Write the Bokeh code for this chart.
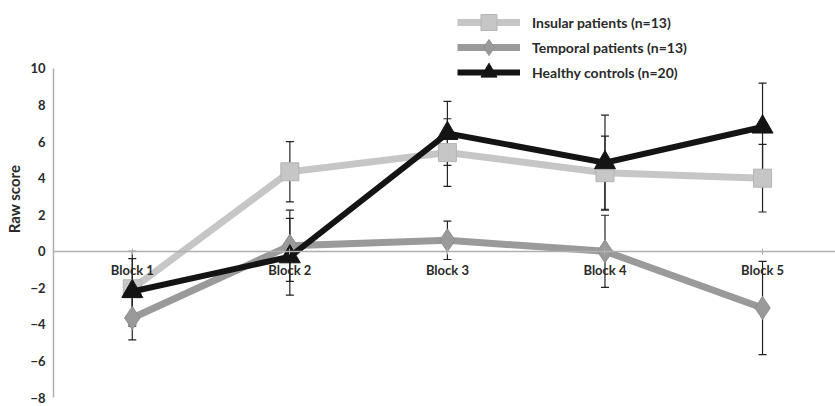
from bokeh.plotting import figure
from bokeh.models import (ColumnDataSource, Range1d, LinearAxis, FixedTicker,
                          Whisker, Legend, LegendItem)
from bokeh.embed import file_html
from bokeh.resources import INLINE

blocks = ["Block 1", "Block 2", "Block 3", "Block 4", "Block 5"]
xpos = [1, 2, 3, 4, 5]

insular = [-2.05, 4.35, 5.4, 4.3, 4.0]
insular_err = [2.05, 1.65, 1.85, 2.0, 1.85]
temporal = [-3.65, 0.3, 0.6, 0.0, -3.1]
temporal_err = [1.2, 1.95, 1.05, 1.97, 2.55]
healthy = [-2.2, -0.3, 6.45, 4.85, 6.8]
healthy_err = [1.8, 2.1, 1.75, 2.6, 2.4]

y_ticks = [-8, -6, -4, -2, 0, 2, 4, 6, 8, 10]

FONT = "Lato"
TXT = "#2a2a2a"

p = figure(width=835, height=406, output_backend="svg", toolbar_location=None,
           x_range=Range1d(0.5, 5.463), y_range=Range1d(-8, 13.72),
           x_axis_location=None, min_border_left=53, min_border_right=0,
           min_border_top=0, min_border_bottom=9)
p.outline_line_color = None
p.xgrid.visible = False
p.ygrid.visible = False
p.background_fill_color = "white"

# y axis
yax = p.yaxis[0]
yax.ticker = FixedTicker(ticks=y_ticks)
yax.bounds = (-8, 10)
yax.axis_line_color = "#b0b0b0"
yax.axis_line_width = 1.5
yax.major_tick_in = 0
yax.major_tick_out = 0
yax.major_tick_line_color = None
yax.minor_tick_line_color = None
yax.major_label_text_font = FONT
yax.major_label_text_font_style = "bold"
yax.major_label_text_font_size = "13px"
yax.major_label_text_color = TXT
yax.major_label_standoff = 8
yax.axis_label = "Raw score"
yax.axis_label_text_font = FONT
yax.axis_label_text_font_style = "bold"
yax.axis_label_text_font_size = "15px"
yax.axis_label_text_color = TXT
yax.axis_label_standoff = 4

# x axis at y = 0
xax = LinearAxis(fixed_location=0, ticker=FixedTicker(ticks=xpos),
                 major_label_overrides={x: b for x, b in zip(xpos, blocks)})
xax.axis_line_color = "#b0b0b0"
xax.axis_line_width = 1.5
xax.major_tick_line_color = "#b0b0b0"
xax.major_tick_in = 3
xax.major_tick_out = 3
xax.minor_tick_line_color = None
xax.major_label_text_font = FONT
xax.major_label_text_font_style = "bold"
xax.major_label_text_font_size = "13px"
xax.major_label_text_color = TXT
xax.major_label_standoff = 8
p.add_layout(xax, "below")

series = [
    ("Insular patients (n=13)", insular, insular_err, "#c6c6c6", "square", 18, "#b4b4b4"),
    ("Temporal patients (n=13)", temporal, temporal_err, "#9a9a9a", "diamond", 23, "#8e8e8e"),
    ("Healthy controls (n=20)", healthy, healthy_err, "#141414", "triangle", 21, "#141414"),
]

items = []
for label, vals, err, col, mk, sz, edge in series:
    src = ColumnDataSource(dict(x=xpos, y=vals,
                                lo=[v - e for v, e in zip(vals, err)],
                                hi=[v + e for v, e in zip(vals, err)]))
    lw = 6 if mk == "triangle" else 7
    r1 = p.line("x", "y", source=src, line_color=col, line_width=lw, line_join="miter")
    r2 = p.scatter("x", "y", source=src, marker=mk, size=sz, fill_color=col,
                   line_color=edge, line_width=1)
    items.append((label, [r1, r2], src))

for label, rs, src in items:
    w = Whisker(source=src, base="x", upper="hi", lower="lo", dimension="height",
                line_color="#222222", line_width=1.2)
    for h in (w.upper_head, w.lower_head):
        h.size = 8
        h.line_color = "#222222"
        h.line_width = 1.2
    p.add_layout(w)

# one legend per row so that the rows can sit close together
legend_bottoms = [355, 330, 305]
for (label, rs, _), yb in zip(items, legend_bottoms):
    lg = Legend(items=[LegendItem(label=label, renderers=rs)],
                location=(404, yb), orientation="vertical",
                glyph_width=63, glyph_height=40, padding=0, margin=0,
                label_standoff=12, label_text_font=FONT, label_text_font_style="bold",
                label_text_font_size="14px", label_text_color=TXT,
                border_line_color=None, background_fill_alpha=0)
    p.add_layout(lg, "center")

open("out.html", "w").write(file_html(p, INLINE))
